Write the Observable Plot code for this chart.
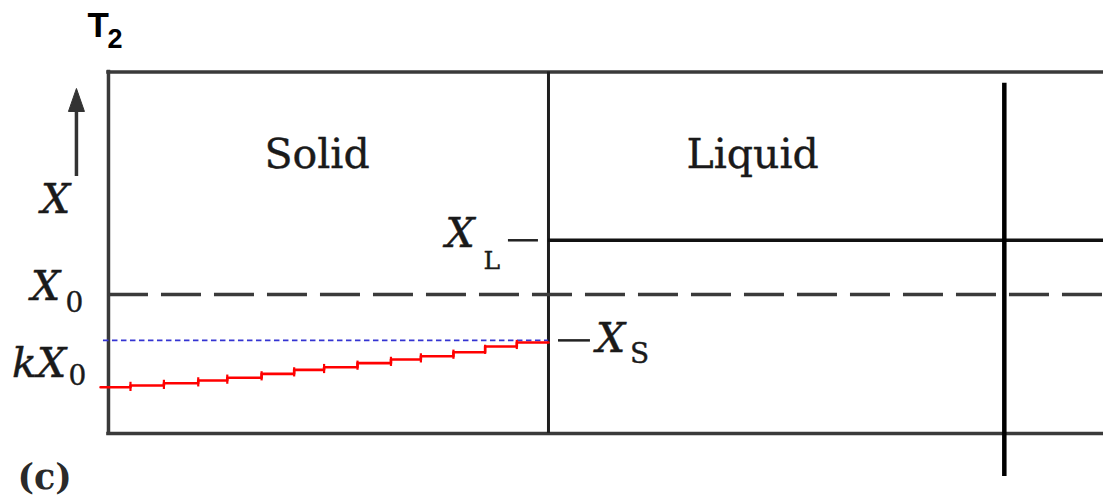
<!DOCTYPE html>
<html>
<head>
<meta charset="utf-8">
<script src="https://cdn.jsdelivr.net/npm/d3@7"></script>
<script src="https://cdn.jsdelivr.net/npm/@observablehq/plot@0.6"></script>
<style>
  body { margin: 0; background: #fff; }
  #chart svg { display: block; background: #fff; }
</style>
</head>
<body>
<div id="chart"></div>
<script>
// Composition levels, in units of the bulk composition X0
const X0 = 1.0;
const XL = 1.39;    // liquid composition at the interface
const XS = 0.67;    // solid composition at the interface
const k = XS / XL;  // partition coefficient

// Bar geometry (position along the bar, composition on the vertical)
const interfaceX = 5.0;
const barEnd = 11.31;
const barTop = 2.6;
const quenchX = 10.18;
const quenchSpan = [-0.31, 2.52];

// Measured composition profile in the solid
const profileX = [-0.09, 0.25, 0.63, 1.02, 1.35, 1.74, 2.11, 2.45, 2.83, 3.21, 3.55, 3.92, 4.28, 4.64, 5.0];
const profileY = [0.333, 0.345, 0.362, 0.381, 0.401, 0.429, 0.458, 0.477, 0.506, 0.532, 0.556, 0.585, 0.626, 0.655, 0.655];

// Region names
const phases = ["Solid", "Liquid"];
const phaseX = [2.37, 7.32];
const phaseY = 1.91;

const profile = profileX.map((x, i) => ({x, y: profileY[i]}));
// one tick at every step of the profile, centred on the jump
const steps = profileX.slice(1, -1).map((x, i) => ({x, y: (profileY[i] + profileY[i + 1]) / 2}));

const serif = "DejaVu Serif";
const sans = "Liberation Sans";

// short vertical bar used for the step ticks
const vbar = {
  draw(ctx, size) {
    const h = Math.sqrt(size / Math.PI);
    ctx.moveTo(0, -h);
    ctx.lineTo(0, h);
  }
};
// filled arrow head, tip at the anchor point
const head = {
  draw(ctx) {
    ctx.moveTo(0, 0);
    ctx.lineTo(8, 23);
    ctx.lineTo(-8, 23);
    ctx.closePath();
  }
};

const frameColor = "#3a3a3a";
const ink = "#1a1a1a";

// Math-style label: italic main symbol plus an upright subscript
function mathLabel({main, sub, x, xSub, level, dy, dySub, subSize = 28}) {
  return [
    Plot.text([level], {
      x, y: d => d, text: () => main, textAnchor: "start", lineAnchor: "bottom",
      dy, fontFamily: serif, fontStyle: "italic", fontSize: 41, fill: ink,
      stroke: ink, strokeWidth: 0.5
    }),
    Plot.text([level], {
      x: xSub, y: d => d, text: () => sub, textAnchor: "start", lineAnchor: "bottom",
      dy: dySub, fontFamily: serif, fontSize: subSize, fill: ink,
      stroke: ink, strokeWidth: 0.4
    })
  ];
}

const chart = Plot.plot({
  width: 1103,
  height: 500,
  marginTop: 0, marginRight: 0, marginBottom: 0, marginLeft: 0,
  x: {domain: [-1.227, 11.307], axis: null},
  y: {domain: [-0.482, 3.115], axis: null},
  marks: [
    // bar outline and solid/liquid interface
    Plot.ruleY([0, barTop], {x1: 0, x2: barEnd, stroke: frameColor, strokeWidth: 3.5, strokeLinecap: "square"}),
    Plot.ruleX([0], {y1: 0, y2: barTop, stroke: frameColor, strokeWidth: 3.5, strokeLinecap: "square"}),
    Plot.ruleX([interfaceX], {y1: 0, y2: barTop, stroke: "#1e1e1e", strokeWidth: 3}),

    // bulk composition
    Plot.ruleY([X0], {x1: 0, x2: barEnd, stroke: frameColor, strokeWidth: 3.5, strokeDasharray: "40,13"}),
    // liquid at the interface
    Plot.ruleY([XL], {x1: interfaceX, x2: barEnd, stroke: "#111", strokeWidth: 3.5}),
    // solid at the interface
    Plot.ruleY([XS], {x1: -0.057, x2: interfaceX, stroke: "#3434d2", strokeWidth: 1.6, strokeDasharray: "5.5,3.5"}),

    // solid composition profile
    Plot.line(profile, {x: "x", y: "y", curve: "step-after", stroke: "#ff0000", strokeWidth: 2.6}),
    Plot.dot(steps, {x: "x", y: "y", symbol: vbar, r: 4.6, stroke: "#ff0000", strokeWidth: 2.2, fill: "none"}),

    // quench position
    Plot.ruleX([quenchX], {y1: quenchSpan[0], y2: quenchSpan[1], stroke: "#000", strokeWidth: 4.5}),

    // label leaders
    Plot.ruleY([XL], {x1: 4.545, x2: 4.886, stroke: "#222", strokeWidth: 2.5}),
    Plot.ruleY([XS], {x1: 5.114, x2: 5.477, stroke: "#222", strokeWidth: 2.5}),

    // composition axis arrow
    Plot.ruleX([-0.364], {y1: 1.849, y2: 2.33, stroke: "#333", strokeWidth: 3.5}),
    Plot.dot([2.482], {x: -0.364, y: d => d, symbol: head, fill: "#333", stroke: "#333", strokeWidth: 1}),
    Plot.text(["X"], {
      x: -0.602, y: 1.583, text: d => d, textAnchor: "middle", lineAnchor: "bottom",
      fontFamily: serif, fontStyle: "italic", fontSize: 41, fill: ink, stroke: ink, strokeWidth: 0.5
    }),

    // region names
    Plot.text(phases, {
      x: (d, i) => phaseX[i], y: phaseY, text: d => d, textAnchor: "middle", lineAnchor: "bottom",
      fontFamily: serif, fontSize: 41, fill: ink, stroke: ink, strokeWidth: 0.4
    }),

    // composition labels
    ...mathLabel({main: "X", sub: "L", x: 3.83, xSub: 4.261, level: XL, dy: 7, dySub: 29, subSize: 25}),
    ...mathLabel({main: "X", sub: "0", x: -0.88, xSub: -0.489, level: X0, dy: 6, dySub: 18}),
    ...mathLabel({main: "kX", sub: "0", x: -1.095, xSub: -0.455, level: k * X0, dy: 11, dySub: 19}),
    ...mathLabel({main: "X", sub: "S", x: 5.54, xSub: 5.925, level: XS, dy: 12, dySub: 23}),

    // temperature tag and panel letter
    Plot.text(["T"], {
      x: -0.239, y: 2.849, text: d => d, textAnchor: "start", lineAnchor: "bottom",
      fontFamily: sans, fontWeight: "bold", fontSize: 35, fill: "#000"
    }),
    Plot.text(["2"], {
      x: -0.011, y: 2.770, text: d => d, textAnchor: "start", lineAnchor: "bottom",
      fontFamily: sans, fontWeight: "bold", fontSize: 27, fill: "#000"
    }),
    Plot.text(["(c)"], {
      x: -1.034, y: -0.396, text: d => d, textAnchor: "start", lineAnchor: "bottom",
      fontFamily: serif, fontWeight: "bold", fontSize: 35, fill: "#2a2a2a"
    })
  ]
});

document.getElementById("chart").appendChild(chart);
</script>
</body>
</html>
